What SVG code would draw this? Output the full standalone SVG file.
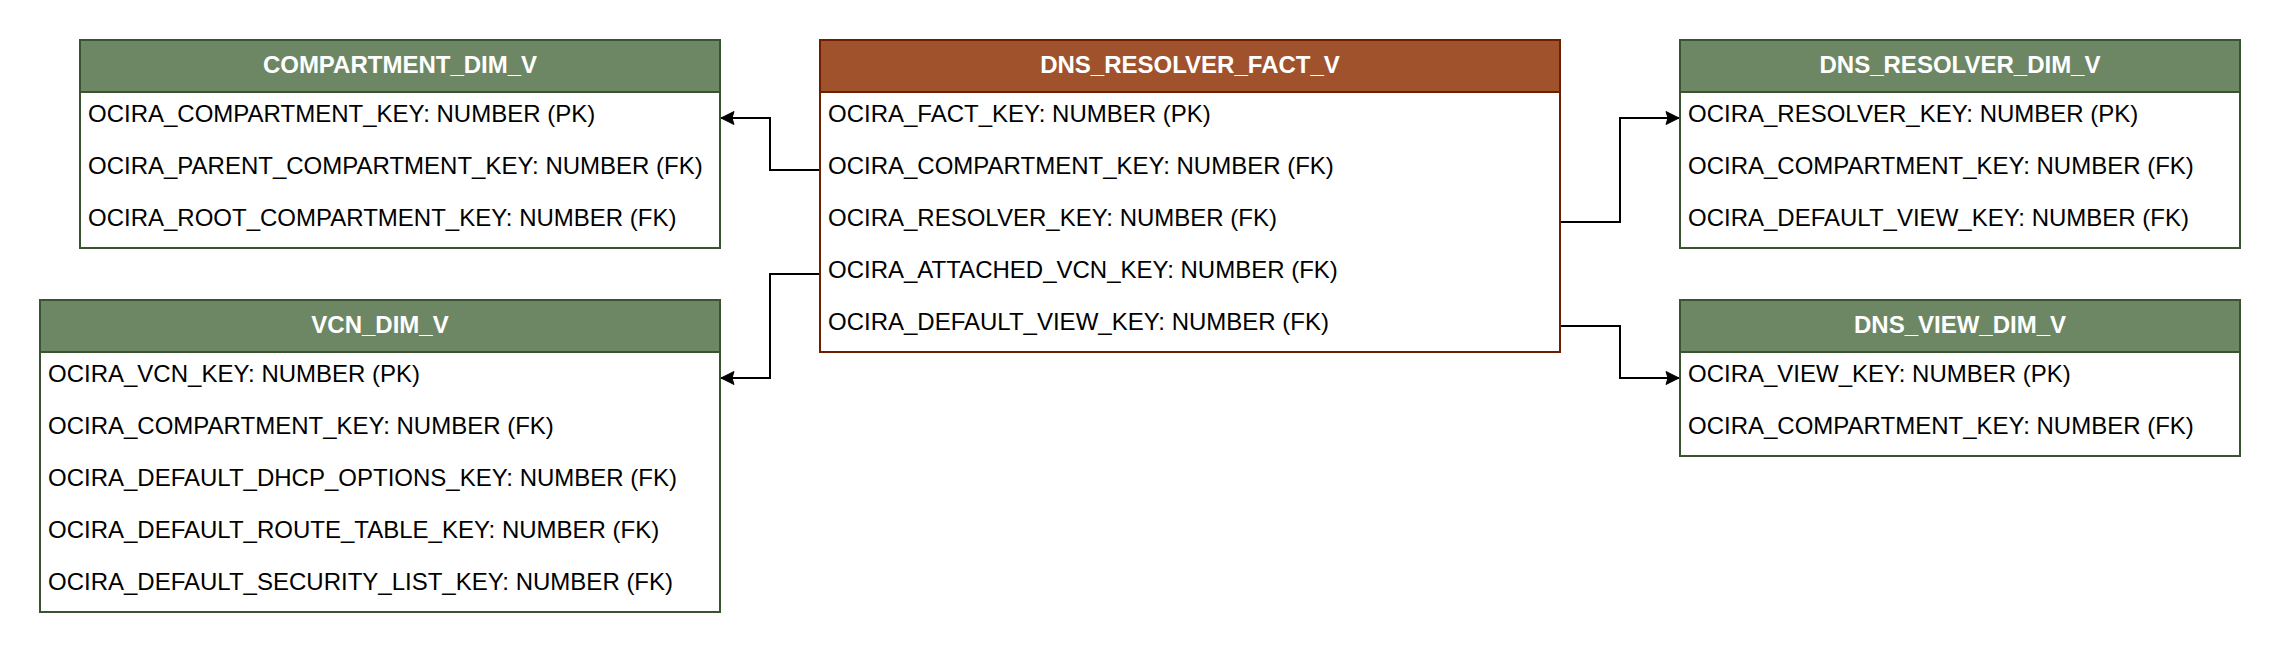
<svg xmlns="http://www.w3.org/2000/svg" width="2280" height="652" viewBox="0 0 2280 652">
<style>
text{font-family:"Liberation Sans",Arial,Helvetica,sans-serif;font-size:24px;fill:#000}
.title{font-weight:bold;fill:#fff;text-anchor:middle}
.gh{fill:#6d8764;stroke:#3a5431;stroke-width:2}
.gb{fill:#fff;stroke:#3a5431;stroke-width:2}
.fh{fill:#a0522d;stroke:#6d1f00;stroke-width:2}
.fb{fill:#fff;stroke:#6d1f00;stroke-width:2}
.edge{fill:none;stroke:#000;stroke-width:2;marker-end:url(#arr)}
</style>
<defs>
<marker id="arr" markerUnits="userSpaceOnUse" markerWidth="16" markerHeight="16" viewBox="-14 -8 16 16" refX="0" refY="0" orient="auto">
<path d="M0,0 L-13,-6.5 L-11,0 L-13,6.5 Z" fill="#000" stroke="#000" stroke-width="1"/>
</marker>
</defs>
<g id="connectors">
<path class="edge" d="M820,170 H770 V118 H721"/>
<path class="edge" d="M820,274 H770 V378 H721"/>
<path class="edge" d="M1560,222 H1620 V118 H1679"/>
<path class="edge" d="M1560,326 H1620 V378 H1679"/>
</g>
<g id="COMPARTMENT_DIM_V">
<rect class="gb" x="80" y="40" width="640" height="208"/>
<rect class="gh" x="80" y="40" width="640" height="52"/>
<text class="title" x="400" y="73">COMPARTMENT_DIM_V</text>
<text x="88" y="122">OCIRA_COMPARTMENT_KEY: NUMBER (PK)</text>
<text x="88" y="174">OCIRA_PARENT_COMPARTMENT_KEY: NUMBER (FK)</text>
<text x="88" y="226">OCIRA_ROOT_COMPARTMENT_KEY: NUMBER (FK)</text>
</g>
<g id="VCN_DIM_V">
<rect class="gb" x="40" y="300" width="680" height="312"/>
<rect class="gh" x="40" y="300" width="680" height="52"/>
<text class="title" x="380" y="333">VCN_DIM_V</text>
<text x="48" y="382">OCIRA_VCN_KEY: NUMBER (PK)</text>
<text x="48" y="434">OCIRA_COMPARTMENT_KEY: NUMBER (FK)</text>
<text x="48" y="486">OCIRA_DEFAULT_DHCP_OPTIONS_KEY: NUMBER (FK)</text>
<text x="48" y="538">OCIRA_DEFAULT_ROUTE_TABLE_KEY: NUMBER (FK)</text>
<text x="48" y="590">OCIRA_DEFAULT_SECURITY_LIST_KEY: NUMBER (FK)</text>
</g>
<g id="DNS_RESOLVER_FACT_V">
<rect class="fb" x="820" y="40" width="740" height="312"/>
<rect class="fh" x="820" y="40" width="740" height="52"/>
<text class="title" x="1190" y="73">DNS_RESOLVER_FACT_V</text>
<text x="828" y="122">OCIRA_FACT_KEY: NUMBER (PK)</text>
<text x="828" y="174">OCIRA_COMPARTMENT_KEY: NUMBER (FK)</text>
<text x="828" y="226">OCIRA_RESOLVER_KEY: NUMBER (FK)</text>
<text x="828" y="278">OCIRA_ATTACHED_VCN_KEY: NUMBER (FK)</text>
<text x="828" y="330">OCIRA_DEFAULT_VIEW_KEY: NUMBER (FK)</text>
</g>
<g id="DNS_RESOLVER_DIM_V">
<rect class="gb" x="1680" y="40" width="560" height="208"/>
<rect class="gh" x="1680" y="40" width="560" height="52"/>
<text class="title" x="1960" y="73">DNS_RESOLVER_DIM_V</text>
<text x="1688" y="122">OCIRA_RESOLVER_KEY: NUMBER (PK)</text>
<text x="1688" y="174">OCIRA_COMPARTMENT_KEY: NUMBER (FK)</text>
<text x="1688" y="226">OCIRA_DEFAULT_VIEW_KEY: NUMBER (FK)</text>
</g>
<g id="DNS_VIEW_DIM_V">
<rect class="gb" x="1680" y="300" width="560" height="156"/>
<rect class="gh" x="1680" y="300" width="560" height="52"/>
<text class="title" x="1960" y="333">DNS_VIEW_DIM_V</text>
<text x="1688" y="382">OCIRA_VIEW_KEY: NUMBER (PK)</text>
<text x="1688" y="434">OCIRA_COMPARTMENT_KEY: NUMBER (FK)</text>
</g>
</svg>
